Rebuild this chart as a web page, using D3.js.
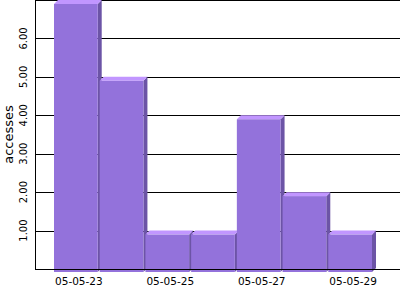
<!DOCTYPE html>
<html>
<head>
<meta charset="utf-8">
<script src="https://cdn.jsdelivr.net/npm/d3@7"></script>
<style>
  body { margin: 0; background: #fff; }
  svg { display: block; font-family: "DejaVu Sans", sans-serif; }
</style>
</head>
<body>
<div id="chart"></div>
<script>
// data
const days = ['05-05-23', '05-05-24', '05-05-25', '05-05-26', '05-05-27', '05-05-28', '05-05-29'];
const accesses = [7, 5, 1, 1, 4, 2, 1];
const yTicks = [1, 2, 3, 4, 5, 6];
const labelledDays = ['05-05-23', '05-05-25', '05-05-27', '05-05-29'];

const width = 400, height = 300;
const depth = 4; // fake 3d offset

const svg = d3.select('#chart').append('svg')
  .attr('width', width)
  .attr('height', height);

const x = d3.scaleBand()
  .domain(days)
  .range([54, 374]);

const y = d3.scaleLinear()
  .domain([0, 7])
  .range([269, 0]);

const px = v => Math.round(v) + 0.5;

// grid lines behind the bars
svg.append('g').selectAll('line')
  .data(yTicks.concat([7]))
  .join('line')
  .attr('x1', 35).attr('x2', width)
  .attr('y1', d => px(y(d))).attr('y2', d => px(y(d)))
  .attr('stroke', '#000');

// bars, left to right so each covers the side of the one before
const bw = x.bandwidth() - 2;
const bars = svg.append('g').selectAll('g')
  .data(days.map((d, i) => ({ day: d, value: accesses[i] })))
  .join('g');

bars.append('polygon') // side
  .attr('fill', '#6c54a6')
  .attr('points', d => {
    const x1 = x(d.day) + bw, yt = y(d.value) + depth, yb = y(0) + 3;
    return [[x1, yt], [x1 + depth, yt - depth], [x1 + depth, yb - depth], [x1, yb]].join(' ');
  });

bars.append('polygon') // top
  .attr('fill', '#c196ff')
  .attr('points', d => {
    const x0 = x(d.day), x1 = x0 + bw, yt = y(d.value) + depth;
    return [[x0, yt], [x0 + depth, yt - depth], [x1 + depth, yt - depth], [x1, yt]].join(' ');
  });

bars.append('rect') // front
  .attr('fill', '#9372db')
  .attr('x', d => x(d.day))
  .attr('y', d => y(d.value) + depth)
  .attr('width', bw)
  .attr('height', d => y(0) + 3 - y(d.value) - depth);

// axis lines on top
svg.append('line')
  .attr('x1', 35).attr('x2', width)
  .attr('y1', px(y(0))).attr('y2', px(y(0)))
  .attr('stroke', '#000');
svg.append('line')
  .attr('x1', 35.5).attr('x2', 35.5)
  .attr('y1', 0).attr('y2', px(y(0)))
  .attr('stroke', '#000');

// y tick labels, rotated
svg.append('g').selectAll('text')
  .data(yTicks)
  .join('text')
  .attr('transform', d => `translate(27,${y(d)}) rotate(-90)`)
  .attr('text-anchor', 'middle')
  .attr('font-size', 10)
  .text(d => d3.format('.2f')(d));

// x labels on every other day
svg.append('g').selectAll('text')
  .data(labelledDays)
  .join('text')
  .attr('x', d => x(d) + bw / 2 + 3)
  .attr('y', 285)
  .attr('text-anchor', 'middle')
  .attr('font-size', 10.5)
  .text(d => d);

// axis title
svg.append('text')
  .attr('transform', `translate(13,${y(3.5)}) rotate(-90)`)
  .attr('text-anchor', 'middle')
  .attr('font-size', 13)
  .text('accesses');
</script>
</body>
</html>
